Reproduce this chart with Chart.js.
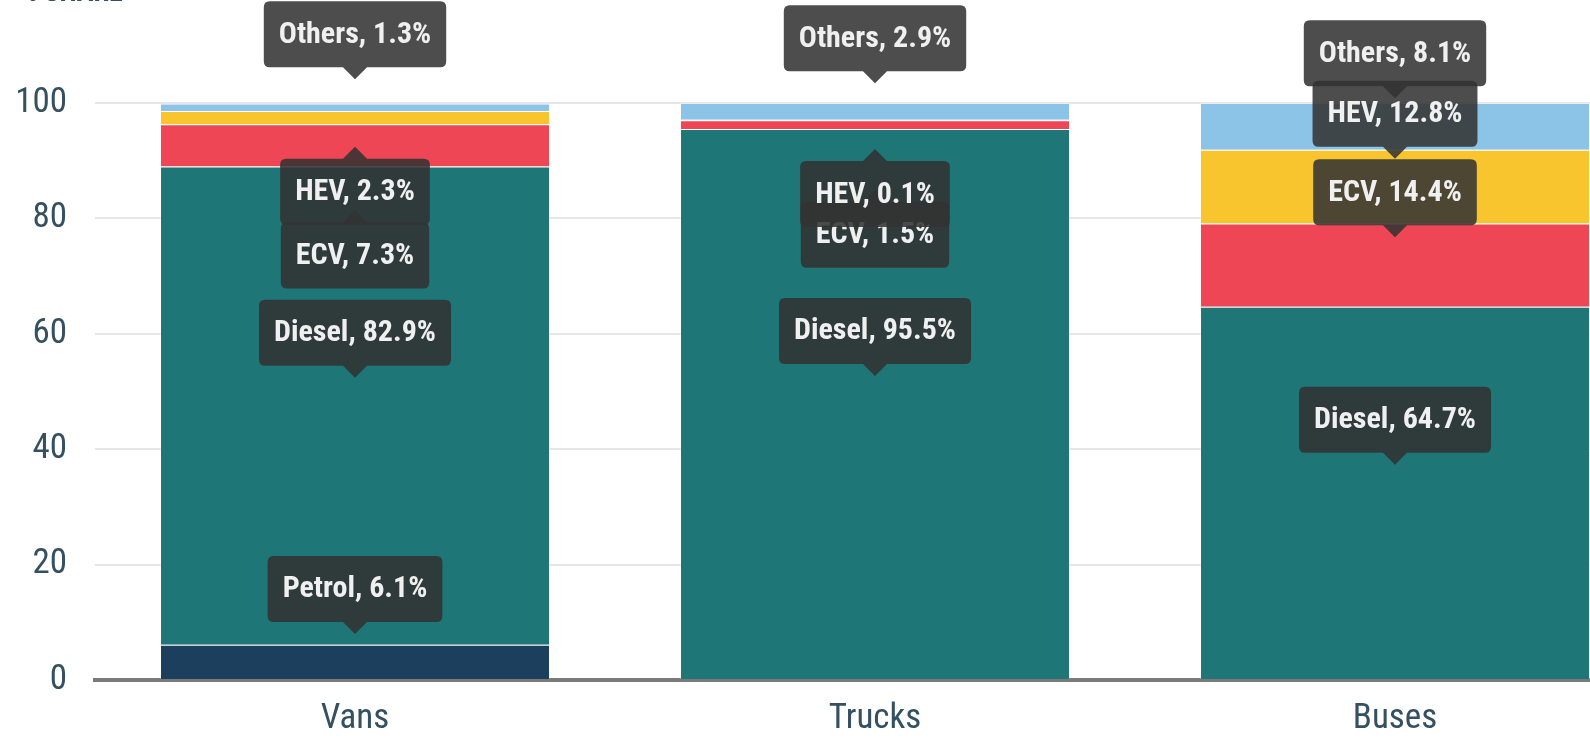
<!DOCTYPE html>
<html>
<head>
<meta charset="utf-8">
<script src="https://cdn.jsdelivr.net/npm/chart.js@4.4.1/dist/chart.umd.min.js"></script>
<style>
  html, body { margin: 0; padding: 0; background: #ffffff; overflow: hidden; }
  #wrap { position: relative; width: 1590px; height: 752px; overflow: hidden; background: #fff; }
  #c { position: absolute; left: 0; top: -40px; }
</style>
</head>
<body>
<div id="wrap"><canvas id="c" width="1700" height="800"></canvas></div>
<script>
// ---- data ----
const categories = ['Vans', 'Trucks', 'Buses'];
const seriesNames = ['Petrol', 'Diesel', 'ECV', 'HEV', 'Others'];
const petrol = [6.1, null, null];
const diesel = [82.9, 95.5, 64.7];
const ecv    = [7.3, 1.5, 14.4];
const hev    = [2.3, 0.1, 12.8];
const others = [1.3, 2.9, 8.1];
const yTicks = [0, 20, 40, 60, 80, 100];
const axisTitle = '% SHARE';

// ---- styling ----
const FONT = "'Roboto Condensed', 'Liberation Sans Narrow', 'DejaVu Sans Condensed', Roboto, sans-serif";
const colors = ['#1d3f5e', '#1e7676', '#ee4654', '#f8c52f', '#8cc4e8'];
const tickColor = '#345061';
// tooltip placement rules (relative to the segment centre)
const tipStyle = { bg: 'rgba(50,50,50,0.87)', fg: '#f0f0f0', font: "bold 30px " + FONT,
  padX: 15, boxH: 66, radius: 6, caretH: 12, caretW: 24, aboveGap: 28 };
const belowRules = { ECV: { under: 10, gap: 77 }, HEV: { under: 10, gap: 41 } };

const seriesValues = [petrol, diesel, ecv, hev, others];

const labelPlugin = {
  id: 'segLabels',
  afterDatasetsDraw(chart) {
    const ctx = chart.ctx;
    ctx.save();
    ctx.font = tipStyle.font;
    ctx.textAlign = 'center';
    ctx.textBaseline = 'middle';
    chart.data.datasets.forEach((ds, di) => {
      const meta = chart.getDatasetMeta(di);
      meta.data.forEach((bar, j) => {
        const v = ds.data[j];
        if (v === null || v === undefined) return;
        const text = ds.label + ', ' + v.toFixed(1) + '%';
        const cx = bar.x;
        const cy = (bar.y + bar.base) / 2;
        const w = ctx.measureText(text).width + tipStyle.padX * 2;
        const h = tipStyle.boxH;
        const rule = belowRules[ds.label];
        let top, tipY, below = false;
        if (rule && v < rule.under) {
          below = true;
          top = cy + rule.gap;
          tipY = top - tipStyle.caretH;
        } else {
          tipY = cy - tipStyle.aboveGap;
          top = tipY - tipStyle.caretH - h;
        }
        const left = cx - w / 2;
        ctx.fillStyle = tipStyle.bg;
        ctx.beginPath();
        const r = tipStyle.radius, cw = tipStyle.caretW / 2;
        ctx.moveTo(left + r, top);
        if (below) { ctx.lineTo(cx - cw, top); ctx.lineTo(cx, tipY); ctx.lineTo(cx + cw, top); }
        ctx.lineTo(left + w - r, top);
        ctx.quadraticCurveTo(left + w, top, left + w, top + r);
        ctx.lineTo(left + w, top + h - r);
        ctx.quadraticCurveTo(left + w, top + h, left + w - r, top + h);
        if (!below) { ctx.lineTo(cx + cw, top + h); ctx.lineTo(cx, tipY); ctx.lineTo(cx - cw, top + h); }
        ctx.lineTo(left + r, top + h);
        ctx.quadraticCurveTo(left, top + h, left, top + h - r);
        ctx.lineTo(left, top + r);
        ctx.quadraticCurveTo(left, top, left + r, top);
        ctx.closePath();
        ctx.fill();
        ctx.fillStyle = tipStyle.fg;
        ctx.fillText(text, cx, top + h / 2 + 1);
      });
    });
    ctx.restore();
  }
};

const titlePlugin = {
  id: 'axisTitle',
  afterDraw(chart) {
    const ctx = chart.ctx;
    ctx.save();
    ctx.font = "bold 28px " + FONT;
    ctx.fillStyle = tickColor;
    ctx.textAlign = 'left';
    ctx.textBaseline = 'alphabetic';
    ctx.fillText(axisTitle, 20, 41);
    ctx.restore();
  }
};

new Chart(document.getElementById('c'), {
  type: 'bar',
  data: {
    labels: categories,
    datasets: seriesNames.map((name, i) => ({
      label: name,
      data: seriesValues[i],
      backgroundColor: colors[i],
      borderColor: 'rgba(255,255,255,0.3)',
      borderWidth: 1,
      barPercentage: 0.75,
      categoryPercentage: 1.0
    }))
  },
  options: {
    responsive: false,
    animation: false,
    devicePixelRatio: 1,
    layout: { padding: { top: 143, right: 45, left: 0, bottom: 0 } },
    plugins: { legend: { display: false }, tooltip: { enabled: false }, title: { display: false } },
    scales: {
      x: {
        stacked: true,
        grid: { display: false, drawTicks: false },
        border: { display: true, color: '#7a7a7a', width: 4 },
        ticks: { color: tickColor, font: { family: FONT, size: 35 }, padding: 18 },
        afterFit(axis) { axis.height = 80; }
      },
      y: {
        stacked: true,
        min: 0, max: 100,
        afterBuildTicks(axis) { axis.ticks = yTicks.map(v => ({ value: v })); },
        grid: { color: '#e6e6e6', lineWidth: 2, drawTicks: false },
        border: { display: false },
        ticks: { color: tickColor, font: { family: FONT, size: 35 }, padding: 28 },
        afterFit(axis) { axis.width = 95; }
      }
    }
  },
  plugins: [labelPlugin, titlePlugin]
});
</script>
</body>
</html>
